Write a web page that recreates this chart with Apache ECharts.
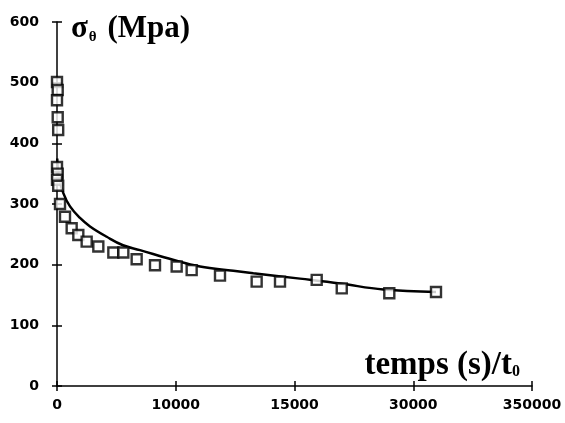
<!DOCTYPE html>
<html>
<head>
<meta charset="utf-8">
<script src="https://cdn.jsdelivr.net/npm/echarts@6/dist/echarts.min.js"></script>
<style>html,body{margin:0;padding:0;background:#fff}#c{width:565px;height:423px}</style>
</head>
<body>
<div id="c"></div>
<script>
// x tick labels as printed on the original figure (one per 10000 step)
var xTickLabels = ['0', '10000', '15000', '30000', '350000'];
var yTickLabels = ['0', '100', '200', '300', '400', '500', '600'];

// measured stress (squares): [time, sigma]
var measX = [0, 60, 0, 60, 100, 0, 60, 0, 100,
  253, 674, 1235, 1795, 2498, 3480, 4744, 5586, 6708, 8253, 10077, 11340, 13726,
  16813, 18779, 21870, 23979, 27983, 31916];
var measY = [501, 488, 471, 443, 422, 361, 350, 340, 330,
  300, 279, 260, 249, 238, 230, 220, 220, 209, 199, 197, 191, 182,
  172, 172, 175, 161, 153, 155];

// fitted curve (solid line)
var fitX = [20, 150, 531, 1095, 1937, 2779, 4185, 5558, 6989, 9768, 12042, 14850, 16533, 20463, 23832, 27480, 31916];
var fitY = [375, 345, 318, 296, 277, 263, 246, 232, 224, 208, 197, 190, 186, 177, 169, 159, 155];

var meas = measX.map(function (x, i) { return [x, measY[i]]; });
var fit = fitX.map(function (x, i) { return [x, fitY[i]]; });

var chart = echarts.init(document.getElementById('c'), null, {renderer: 'canvas'});
var labelFont = {color: '#000', fontFamily: 'DejaVu Sans', fontWeight: 'bold', fontSize: 14};
var axisBase = {
  axisLine: {show: true, lineStyle: {color: '#000', width: 1.5}},
  splitLine: {show: false}
};
chart.setOption({
  animation: false,
  backgroundColor: '#fff',
  title: [
    {
      text: 'σ{s|θ} (Mpa)', left: 66, top: 7,
      textStyle: {
        fontFamily: 'Liberation Serif', fontWeight: 'bold', fontSize: 31, color: '#000',
        rich: {s: {fontFamily: 'Liberation Serif', fontWeight: 'bold', fontSize: 15, color: '#000', padding: [18, 3, 0, 1]}}
      }
    },
    {
      text: 'temps (s)/t{s|0}', right: 40, top: 344,
      textStyle: {
        fontFamily: 'Liberation Serif', fontWeight: 'bold', fontSize: 33, color: '#000',
        rich: {s: {fontFamily: 'Liberation Serif', fontWeight: 'bold', fontSize: 16, color: '#000', padding: [12, 0, 0, 0]}}
      }
    }
  ],
  grid: {left: 57, right: 33, top: 22, bottom: 37},
  xAxis: [
    Object.assign({
      type: 'value', min: 0, max: 40000, interval: 10000,
      axisTick: {show: true, length: 5, lineStyle: {color: '#000', width: 1.5}},
      axisLabel: Object.assign({margin: 12, formatter: function (v) { return xTickLabels[Math.round(v / 10000)]; }}, labelFont)
    }, axisBase),
    {
      type: 'value', min: 0, max: 40000, interval: 10000, position: 'bottom',
      axisLine: {show: false}, splitLine: {show: false}, axisLabel: {show: false},
      axisTick: {show: true, inside: true, length: 5, lineStyle: {color: '#000', width: 1.5}}
    }
  ],
  yAxis: [
    Object.assign({
      type: 'value', min: 0, max: 600, interval: 100,
      axisTick: {show: true, length: 5, lineStyle: {color: '#000', width: 1.5}},
      axisLabel: Object.assign({margin: 18, formatter: function (v) { return yTickLabels[Math.round(v / 100)]; }}, labelFont)
    }, axisBase),
    {
      type: 'value', min: 0, max: 600, interval: 100, position: 'left',
      axisLine: {show: false}, splitLine: {show: false}, axisLabel: {show: false},
      axisTick: {show: true, inside: true, length: 5, lineStyle: {color: '#000', width: 1.5}}
    }
  ],
  series: [
    {
      type: 'line', data: fit, smooth: 0.4, showSymbol: false, symbol: 'none',
      lineStyle: {color: '#000', width: 2.5}, z: 2
    },
    {
      type: 'scatter', data: meas, symbol: 'rect', symbolSize: 10,
      itemStyle: {color: '#fff', borderColor: '#000', borderWidth: 2.4}, z: 3
    }
  ]
});
</script>
</body>
</html>
